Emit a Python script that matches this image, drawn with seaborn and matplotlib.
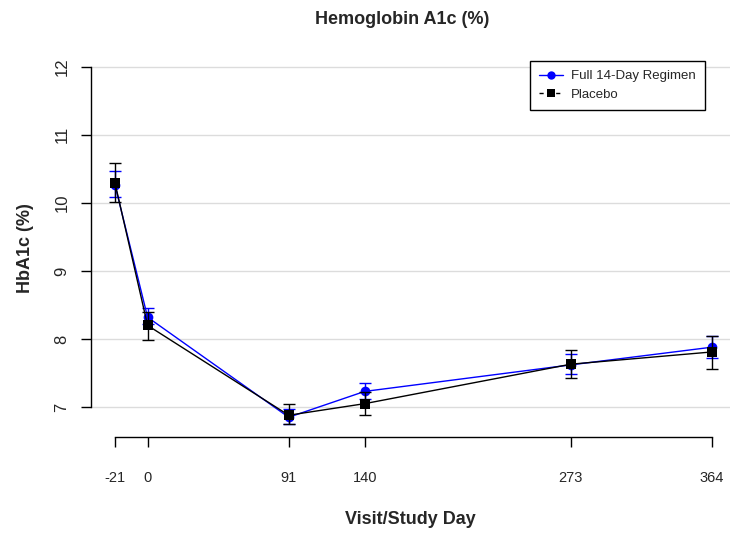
import matplotlib
matplotlib.use("Agg")
import matplotlib.pyplot as plt
import seaborn as sns
import pandas as pd
from matplotlib.lines import Line2D

days = [-21, 0, 91, 140, 273, 364]
full_mean = [10.26, 8.32, 6.85, 7.23, 7.62, 7.88]
full_lo = [10.08, 8.22, 6.75, 7.12, 7.49, 7.72]
full_hi = [10.47, 8.45, 6.97, 7.35, 7.78, 8.05]
plac_mean = [10.29, 8.20, 6.88, 7.05, 7.63, 7.81]
plac_lo = [10.01, 7.99, 6.75, 6.88, 7.43, 7.56]
plac_hi = [10.59, 8.40, 7.04, 7.22, 7.84, 8.05]
series_names = ["Full 14-Day Regimen", "Placebo"]
yticks = [7, 8, 9, 10, 11, 12]

sns.set_style("white")
plt.rcParams['font.family'] = ['Liberation Sans', 'DejaVu Sans']

fig = plt.figure(figsize=(7.3, 5.34), dpi=100)
W, H = 730, 534
ax = fig.add_axes([91 / W, 1 - 437 / H, (730 - 91) / W, (437 - 60) / H])

df = pd.DataFrame({
    "day": days * 2,
    "val": full_mean + plac_mean,
    "grp": [series_names[0]] * len(days) + [series_names[1]] * len(days),
})

for y in yticks:
    ax.axhline(y, color="#dcdcdc", lw=1.0, zorder=0)

colors = {series_names[0]: "#0000ff", series_names[1]: "#000000"}
sns.lineplot(data=df, x="day", y="val", hue="grp", palette=colors,
             style="grp", markers={series_names[0]: "o", series_names[1]: "s"},
             dashes=False, markersize=7, markeredgewidth=0, lw=1.0,
             legend=False, ax=ax, zorder=3)

for mean, lo, hi, c, z in [(full_mean, full_lo, full_hi, "#0000ff", 2),
                           (plac_mean, plac_lo, plac_hi, "#000000", 4)]:
    yerr = [[m - l for m, l in zip(mean, lo)], [h - m for m, h in zip(mean, hi)]]
    ax.errorbar(days, mean, yerr=yerr, fmt="none", ecolor=c, elinewidth=1.0,
                capsize=4, capthick=1.0, zorder=z)

# redraw placebo markers on top
ax.plot(days, plac_mean, "s", color="black", ms=7, mew=0, zorder=5)

ax.set_xlim(-36.5, 375.6)
ax.set_ylim(6.56, 12.10)

for s in ["top", "right"]:
    ax.spines[s].set_visible(False)
ax.spines["left"].set_bounds(7, 12)
ax.spines["bottom"].set_bounds(-21, 364)
for s in ["left", "bottom"]:
    ax.spines[s].set_color("black")
    ax.spines[s].set_linewidth(1.0)

ax.set_yticks(yticks)
ax.set_yticklabels([str(t) for t in yticks], rotation=90, va="center", fontsize=12)
ax.set_xticks(days)
ax.set_xticklabels([str(d) for d in days], fontsize=10.5)
ax.tick_params(axis="both", direction="out", length=7.5, width=1, color="black",
               left=True, bottom=True)
ax.tick_params(axis="y", pad=8)
ax.tick_params(axis="x", pad=17)

ax.set_xlabel("Visit/Study Day", fontsize=13, fontweight="bold", labelpad=19)
ax.set_ylabel("HbA1c (%)", fontsize=13, fontweight="bold", labelpad=15)
fig.text(402 / W, 1 - 19 / H, "Hemoglobin A1c (%)", ha="center", va="center",
         fontsize=13, fontweight="bold")

handles = [
    Line2D([], [], color="#0000ff", marker="o", ms=6, mew=0, lw=1.0),
    Line2D([], [], color="black", marker="s", ms=6, mew=0, lw=1.0, ls=(0, (3, 3))),
]
leg = ax.legend(handles, series_names, loc="upper left",
                bbox_to_anchor=((530 - 91) / (730 - 91), 1 - (61 - 60) / (437 - 60)),
                fontsize=9.5, frameon=True, fancybox=False, framealpha=1,
                edgecolor="black", handlelength=1.8, handletextpad=0.6,
                borderpad=0.7, labelspacing=0.45, borderaxespad=0)
leg.get_frame().set_linewidth(1.0)

fig.savefig("out.png", dpi=100)
